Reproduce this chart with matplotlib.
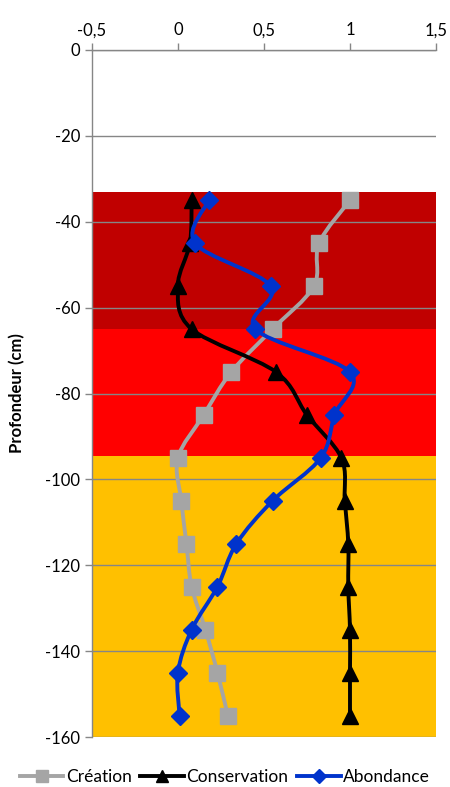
import matplotlib
matplotlib.use("Agg")
import matplotlib.pyplot as plt
import matplotlib.ticker as ticker
from matplotlib.path import Path
from matplotlib.patches import PathPatch
from matplotlib.lines import Line2D
import numpy as np

plt.rcParams["font.family"] = ["Lato", "DejaVu Sans"]
plt.rcParams["axes.unicode_minus"] = False

# ── Data ──────────────────────────────────────────────────────────────────────
depth = [-35, -45, -55, -65, -75, -85, -95, -105, -115, -125, -135, -145, -155]
creation = [1.0, 0.82, 0.79, 0.55, 0.31, 0.15, 0.0, 0.02, 0.05, 0.08, 0.16, 0.23, 0.29]
conservation = [0.08, 0.07, 0.0, 0.08, 0.57, 0.75, 0.95, 0.97, 0.99, 0.99, 1.0, 1.0, 1.0]
abondance = [0.18, 0.10, 0.54, 0.45, 1.0, 0.91, 0.83, 0.55, 0.34, 0.23, 0.08, 0.0, 0.01]

band_edges = [-33, -65, -94.5, -160]
band_colors = ["#C00000", "#FF0000", "#FFC000"]

GRID = "#868686"


def smooth_path(xs, ys):
    """Excel-like smoothed line: cubic Bezier through every point."""
    pts = np.column_stack([xs, ys]).astype(float)
    n = len(pts)
    verts = [pts[0]]
    codes = [Path.MOVETO]
    for i in range(n - 1):
        p0 = pts[i - 1] if i > 0 else pts[i]
        p1, p2 = pts[i], pts[i + 1]
        p3 = pts[i + 2] if i + 2 < n else pts[i + 1]
        c1 = p1 + (p2 - p0) / 6.0
        c2 = p2 - (p3 - p1) / 6.0
        verts += [c1, c2, p2]
        codes += [Path.CURVE4] * 3
    return Path(verts, codes)


fig = plt.figure(figsize=(4.5, 7.87), dpi=100)
ax = fig.add_axes([0.204, 0.0635, 0.765, 0.873])

for top, bot, c in zip(band_edges[:-1], band_edges[1:], band_colors):
    ax.axhspan(bot, top, color=c, zorder=0, lw=0)

ax.set_xlim(-0.5, 1.5)
ax.set_ylim(-160, 0)
ax.yaxis.set_major_locator(ticker.MultipleLocator(20))
ax.xaxis.set_major_locator(ticker.MultipleLocator(0.5))
ax.xaxis.set_major_formatter(
    ticker.FuncFormatter(lambda v, p: f"{v:g}".replace(".", ",")))
ax.xaxis.tick_top()
ax.grid(axis="y", color=GRID, lw=1, zorder=1)
ax.set_axisbelow(False)

for s in ("right", "bottom"):
    ax.spines[s].set_visible(False)
for s in ("left", "top"):
    ax.spines[s].set_color(GRID)
    ax.spines[s].set_linewidth(1)
ax.tick_params(axis="both", colors=GRID, labelcolor="black", labelsize=12,
               length=5, width=1)

series = [
    ("Création", creation, "#A5A5A5", "s", 11),
    ("Conservation", conservation, "black", "^", 11),
    ("Abondance", abondance, "#0033CC", "D", 9),
]
handles = []
for i, (name, vals, col, mk, ms) in enumerate(series):
    patch = PathPatch(smooth_path(vals, depth), fill=False, edgecolor=col,
                      lw=2.8, zorder=3 + i, capstyle="round", joinstyle="round")
    ax.add_patch(patch)
    ax.plot(vals, depth, ls="none", marker=mk, ms=ms, color=col,
            mec=col, zorder=3 + i, clip_on=False)
    handles.append(Line2D([], [], color=col, lw=2.8, marker=mk, ms=ms * 0.8,
                          label=name))

ax.set_ylabel("Profondeur (cm)", fontsize=12, fontweight="bold", labelpad=14)

fig.legend(handles=handles, loc="lower center", ncol=3, frameon=False,
           fontsize=12.5, bbox_to_anchor=(0.5, -0.017), handlelength=2.5,
           handletextpad=0.15, columnspacing=0.5)

fig.savefig("out.png", dpi=100)
